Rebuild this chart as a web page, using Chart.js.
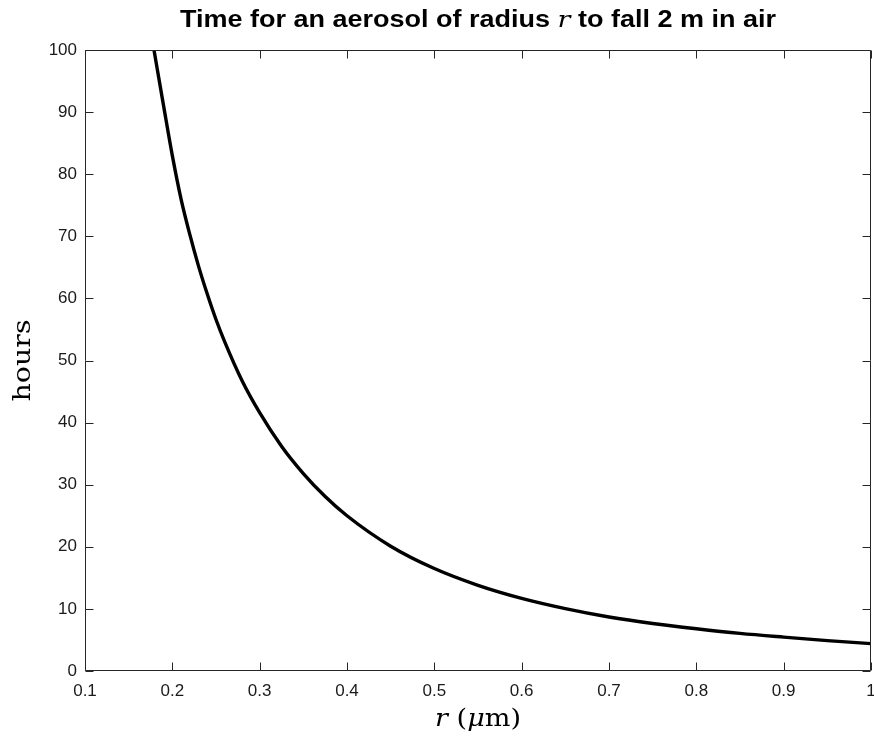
<!DOCTYPE html>
<html>
<head>
<meta charset="utf-8">
<script src="https://cdn.jsdelivr.net/npm/chart.js@4/dist/chart.umd.min.js"></script>
<style>
  html, body { margin: 0; padding: 0; background: #fff; }
  #wrap { width: 874px; height: 738px; position: relative; }
</style>
</head>
<body>
<div id="wrap"><canvas id="c" width="874" height="738"></canvas></div>
<script>
// Radius r (micrometres) and fall time (hours)
const radius = [0.179, 0.19, 0.20, 0.21, 0.22, 0.23, 0.24, 0.25, 0.26, 0.28, 0.30, 0.325, 0.35, 0.375, 0.40, 0.45, 0.50, 0.55, 0.60, 0.65, 0.70, 0.75, 0.80, 0.85, 0.90, 0.95, 1.00];
const hours  = [100, 91, 83, 76, 70.3, 65.2, 60.7, 56.6, 53, 46.7, 41.6, 36.2, 31.8, 28.1, 25.0, 20.1, 16.5, 13.8, 11.7, 10.05, 8.7, 7.65, 6.8, 6.05, 5.45, 4.9, 4.4];

const xRange = [0.1, 1];
const yRange = [0, 100];
const titleParts = [
  {t: 'Time for an aerosol of radius ', f: 'bold 23px "Liberation Sans", Arial, sans-serif'},
  {t: 'r', f: 'italic 23px "DejaVu Serif", serif'},
  {t: ' to fall 2 m in air', f: 'bold 23px "Liberation Sans", Arial, sans-serif'}
];
const xLabelParts = [
  {t: 'r', f: 'italic 25px "DejaVu Serif", serif'},
  {t: ' (', f: '25px "DejaVu Serif", serif'},
  {t: 'μ', f: 'italic 25px "DejaVu Serif", serif'},
  {t: 'm)', f: '25px "DejaVu Serif", serif'}
];
const yLabelParts = [
  {t: 'hours', f: '25px "DejaVu Serif", serif'}
];

const points = radius.map((r, i) => ({x: r, y: hours[i]}));

// draw mixed-font text centred on (cx, cy), fitted horizontally to targetW
function drawParts(ctx, parts, cx, cy, targetW) {
  let total = 0;
  parts.forEach(p => { ctx.font = p.f; total += ctx.measureText(p.t).width; });
  const sx = targetW ? targetW / total : 1;
  ctx.save();
  ctx.translate(cx, cy);
  ctx.scale(sx, 1);
  let x = -total / 2;
  ctx.textBaseline = 'middle';
  ctx.textAlign = 'left';
  parts.forEach(p => { ctx.font = p.f; ctx.fillText(p.t, x, 0); x += ctx.measureText(p.t).width; });
  ctx.restore();
}

const framePlugin = {
  id: 'frame',
  afterDraw(chart) {
    const ctx = chart.ctx, a = chart.chartArea;
    const xs = chart.scales.x, ys = chart.scales.y;
    ctx.save();
    ctx.strokeStyle = '#262626';
    ctx.lineWidth = 1;
    const L = Math.round(a.left) + 0.5, R = Math.round(a.right) - 0.5;
    const T = Math.round(a.top) + 0.5, B = Math.round(a.bottom) - 0.5;
    ctx.beginPath();
    ctx.rect(L, T, R - L, B - T);
    const tl = 8;
    xs.ticks.forEach(t => {
      const px = Math.round(xs.getPixelForValue(t.value)) + 0.5;
      ctx.moveTo(px, B); ctx.lineTo(px, B - tl);
      ctx.moveTo(px, T); ctx.lineTo(px, T + tl);
    });
    ys.ticks.forEach(t => {
      const py = Math.round(ys.getPixelForValue(t.value)) + 0.5;
      ctx.moveTo(L, py); ctx.lineTo(L + tl, py);
      ctx.moveTo(R, py); ctx.lineTo(R - tl, py);
    });
    ctx.stroke();

    ctx.fillStyle = '#000';
    drawParts(ctx, titleParts, (a.left + a.right) / 2, 21, 596);
    drawParts(ctx, xLabelParts, (a.left + a.right) / 2, 719, 86);
    ctx.save();
    ctx.translate(23, (a.top + a.bottom) / 2);
    ctx.rotate(-Math.PI / 2);
    drawParts(ctx, yLabelParts, 0, 0, 82);
    ctx.restore();
    ctx.restore();
  }
};

new Chart(document.getElementById('c'), {
  type: 'line',
  data: {
    datasets: [{
      data: points,
      borderColor: '#000',
      borderWidth: 3.4,
      pointRadius: 0,
      fill: false,
      cubicInterpolationMode: 'monotone'
    }]
  },
  options: {
    responsive: false,
    animation: false,
    devicePixelRatio: 1,
    layout: { padding: { top: 50, right: 3, left: 0, bottom: 0 } },
    plugins: { legend: { display: false }, title: { display: false }, tooltip: { enabled: false } },
    scales: {
      x: {
        type: 'linear', min: xRange[0], max: xRange[1],
        grid: { display: false, drawTicks: false },
        border: { display: false },
        ticks: { stepSize: 0.1, color: '#1a1a1a', padding: 10, maxRotation: 0,
                 callback: v => String(Number(v.toFixed(1))),
                 font: { family: '"Liberation Sans", Arial, sans-serif', size: 17 } },
        afterFit(s) { s.height = 67; s.paddingLeft = 0; s.paddingRight = 0; }
      },
      y: {
        type: 'linear', min: yRange[0], max: yRange[1],
        grid: { display: false, drawTicks: false },
        border: { display: false },
        ticks: { stepSize: 10, color: '#1a1a1a', padding: 8,
                 font: { family: '"Liberation Sans", Arial, sans-serif', size: 17 } },
        afterFit(s) { s.width = 85; s.paddingTop = 0; s.paddingBottom = 0; }
      }
    }
  },
  plugins: [framePlugin]
});
</script>
</body>
</html>
